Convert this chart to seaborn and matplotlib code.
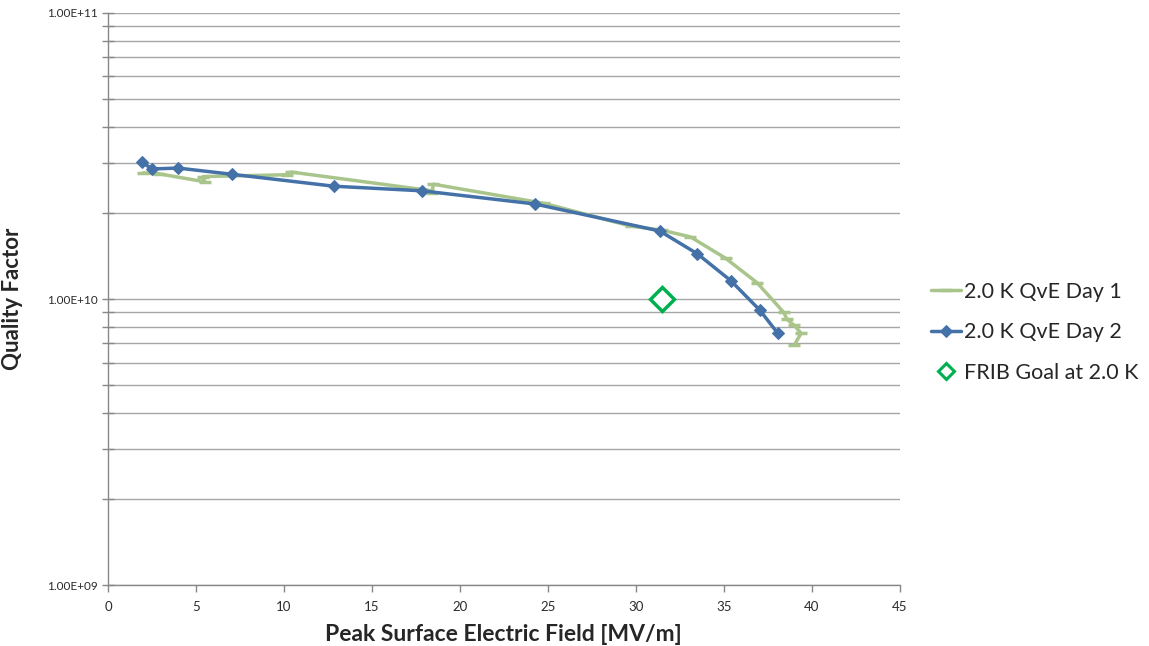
import matplotlib
matplotlib.use("Agg")
import matplotlib.pyplot as plt
import matplotlib.ticker as mticker
import pandas as pd
import numpy as np
import seaborn as sns

# 2.0 K QvE Day 1 (green, dash markers)
day1_e = [2.0, 2.9, 5.5, 5.4, 10.2, 10.4, 18.2, 18.4, 18.5, 24.8, 29.7, 31.5,
          33.1, 35.1, 36.9, 38.4, 38.6, 39.0, 39.4, 39.0]
day1_q = [2.76e10, 2.74e10, 2.57e10, 2.68e10, 2.72e10, 2.78e10, 2.40e10, 2.35e10,
          2.52e10, 2.16e10, 1.80e10, 1.74e10, 1.65e10, 1.39e10, 1.14e10, 9.0e9,
          8.5e9, 8.1e9, 7.6e9, 6.9e9]

# 2.0 K QvE Day 2 (blue, diamonds)
day2_e = [1.93, 2.5, 3.98, 7.05, 12.84, 17.84, 24.26, 31.36, 33.5, 35.4, 37.05, 38.07]
day2_q = [3.01e10, 2.85e10, 2.87e10, 2.73e10, 2.48e10, 2.39e10, 2.15e10, 1.73e10,
          1.44e10, 1.16e10, 9.15e9, 7.6e9]

# FRIB goal
goal_e = [31.5]
goal_q = [1.0e10]

sns.set_style("white")
plt.rcParams['font.family'] = ['Lato', 'DejaVu Sans']

df1 = pd.DataFrame({"E": day1_e, "Q": day1_q})
df2 = pd.DataFrame({"E": day2_e, "Q": day2_q})
dfg = pd.DataFrame({"E": goal_e, "Q": goal_q})

fig, ax = plt.subplots(figsize=(11.49, 6.46), dpi=100)
fig.subplots_adjust(left=0.094, right=0.783, top=0.98, bottom=0.094)

green = "#A9C58C"
blue = "#4472A8"
goal_green = "#00B050"

sns.lineplot(data=df1, x="E", y="Q", sort=False, estimator=None, ax=ax,
             color=green, lw=2.5, marker="_", markersize=9, markeredgewidth=2.5,
             markeredgecolor=green, label="2.0 K QvE Day 1", zorder=3)
sns.lineplot(data=df2, x="E", y="Q", sort=False, estimator=None, ax=ax,
             color=blue, lw=2.5, marker="D", markersize=6.5,
             markeredgecolor=blue, label="2.0 K QvE Day 2", zorder=4)
ax.plot(dfg["E"], dfg["Q"], ls="none", marker="D", ms=12, mfc="white",
        mec=goal_green, mew=2.5, label="FRIB Goal at 2.0 K", zorder=5)

ax.set_yscale("log")
ax.set_ylim(1e9, 1e11)
ax.set_xlim(0, 45)
ax.set_xticks(np.arange(0, 46, 5))
ax.yaxis.set_major_locator(mticker.FixedLocator([1e9, 1e10, 1e11]))
ax.yaxis.set_major_formatter(mticker.FuncFormatter(lambda v, p: f"{v:.2E}"))
ax.yaxis.set_minor_locator(mticker.LogLocator(base=10, subs=np.arange(2, 10)))
ax.yaxis.set_minor_formatter(mticker.NullFormatter())

ax.grid(True, which="both", axis="y", color="#A6A6A6", lw=1)
ax.set_axisbelow(True)
ax.tick_params(axis="y", which="both", direction="inout", length=8, width=1,
               color="#888888", labelsize=8.5, labelcolor="#2B2B2B", left=True)
ax.tick_params(axis="x", which="major", direction="out", length=5, width=1,
               color="#888888", labelsize=9.5, labelcolor="#2B2B2B", bottom=True, pad=6)
for s in ["top", "right"]:
    ax.spines[s].set_visible(False)
for s in ["left", "bottom"]:
    ax.spines[s].set_color("#888888")
    ax.spines[s].set_linewidth(1)

ax.set_xlabel("Peak Surface Electric Field [MV/m]", fontsize=16.5, fontweight="bold", labelpad=8)
ax.set_ylabel("Quality Factor", fontsize=16, fontweight="bold")
ax.yaxis.set_label_coords(-0.107, 0.5)

handles, labels = ax.get_legend_handles_labels()
leg = ax.legend(handles, labels, loc="center left", bbox_to_anchor=(1.015, 0.442),
                frameon=False, fontsize=15.5, handlelength=1.4, handletextpad=0.15,
                labelspacing=0.95)
leg.legend_handles[2].set_markersize(8)
leg.legend_handles[2].set_markeredgewidth(2.2)

fig.savefig("out.png", dpi=100)
